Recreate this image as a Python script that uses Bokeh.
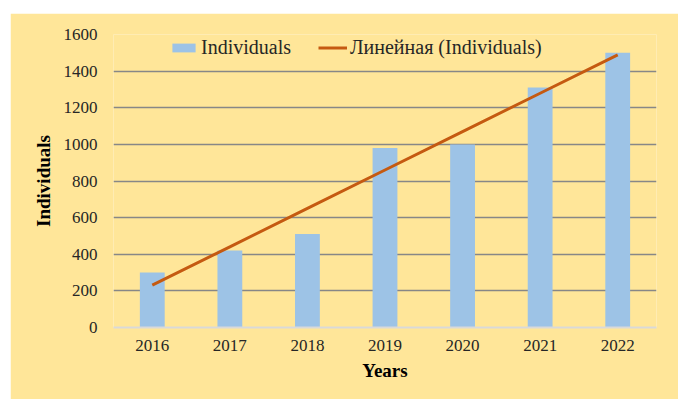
import numpy as np
from bokeh.plotting import figure
from bokeh.models import FactorRange, Legend, LegendItem, FixedTicker
from bokeh.embed import file_html
from bokeh.resources import INLINE

years = ["2016", "2017", "2018", "2019", "2020", "2021", "2022"]
individuals = [300, 420, 510, 980, 1000, 1310, 1500]
y_ticks = [0, 200, 400, 600, 800, 1000, 1200, 1400, 1600]

# Linear trendline ("Линейная") fitted to the bar data, as in the source chart
slope, intercept = np.polyfit(np.arange(len(years)), individuals, 1)
trend = [intercept + slope * i for i in range(len(years))]

FONT = "Liberation Serif"
BG = "#FFE699"

p = figure(
    x_range=FactorRange(*years), y_range=(0, 1600),
    width=668, height=386,
    output_backend="svg", toolbar_location=None,
    min_border_left=103, min_border_right=22,
    min_border_top=21, min_border_bottom=72,
    background_fill_color=BG, border_fill_color=BG,
)
p.margin = (13, 0, 0, 10)
p.outline_line_color = None

bars = p.vbar(x=years, top=individuals, width=0.32,
              fill_color="#9DC3E6", line_color=None)
trend_r = p.line(x=years, y=trend, line_color="#C55A11", line_width=3)

# axes
p.yaxis.ticker = FixedTicker(ticks=y_ticks)
p.yaxis.axis_line_color = None
p.yaxis.major_tick_line_color = None
p.yaxis.minor_tick_line_color = None
p.yaxis.major_tick_out = 0
p.yaxis.major_tick_in = 0
p.yaxis.major_label_standoff = 16
p.yaxis.axis_label = "Individuals"
p.yaxis.axis_label_standoff = 7

p.xaxis.axis_line_color = "#D9D9D9"
p.xaxis.axis_line_width = 2
p.xaxis.major_tick_line_color = None
p.xaxis.major_tick_out = 0
p.xaxis.major_tick_in = 0
p.xaxis.major_label_standoff = 12
p.xaxis.axis_label = "Years"
p.xaxis.axis_label_standoff = 6

for ax in (p.xaxis, p.yaxis):
    ax.major_label_text_font = FONT
    ax.major_label_text_font_size = "17px"
    ax.major_label_text_color = "#262626"
    ax.axis_label_text_font = FONT
    ax.axis_label_text_font_size = "19px"
    ax.axis_label_text_font_style = "bold"
    ax.axis_label_text_color = "#000000"

p.xgrid.grid_line_color = None
p.ygrid.grid_line_color = "#878787"
p.ygrid.grid_line_width = 1.3

legend = Legend(
    items=[LegendItem(label="Individuals", renderers=[bars]),
           LegendItem(label="Линейная (Individuals)", renderers=[trend_r])],
    orientation="horizontal", location=(56, 268),
    background_fill_alpha=0, border_line_alpha=0,
    label_text_font=FONT, label_text_font_size="20px", label_text_color="#262626",
    glyph_width=29, glyph_height=11, label_standoff=3, spacing=27,
    padding=0, margin=0, label_height=20,
)
p.add_layout(legend, "center")

open("out.html", "w").write(file_html(p, INLINE))
